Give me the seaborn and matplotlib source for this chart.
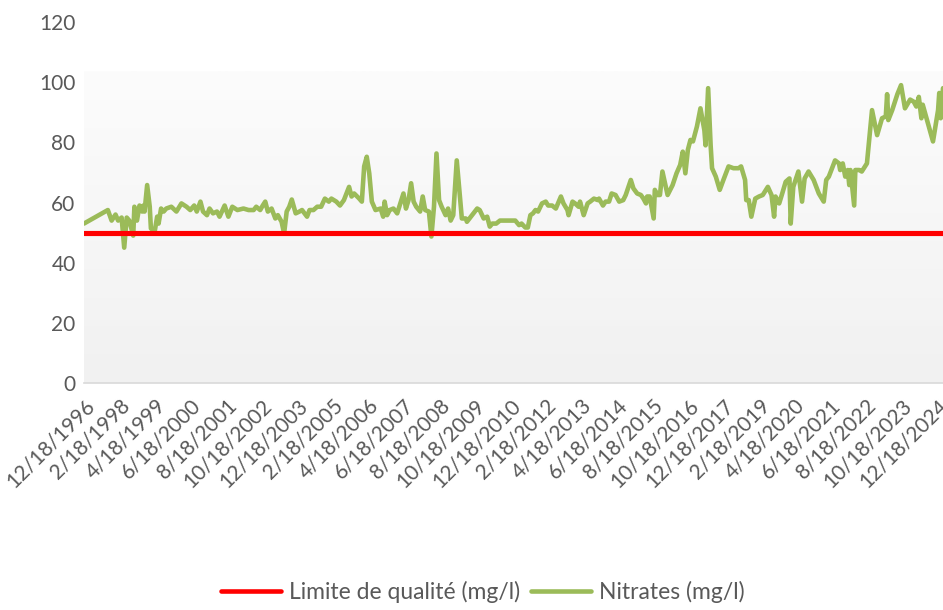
import numpy as np
import pandas as pd
import matplotlib
matplotlib.use("Agg")
import matplotlib.pyplot as plt
import matplotlib.dates as mdates
import seaborn as sns

# Dates des prélèvements et teneurs en nitrates (mg/l)
dates = [
    "1996-12-18", "1997-10-01", "1997-11-15", "1998-01-01", "1998-02-01", "1998-03-15",
    "1998-04-15", "1998-05-15", "1998-06-15", "1998-08-01", "1998-08-15", "1998-09-15",
    "1998-10-15", "1998-11-15", "1998-12-01", "1998-12-15", "1999-01-15", "1999-02-15",
    "1999-03-01", "1999-04-15", "1999-05-15", "1999-06-01", "1999-07-01", "1999-08-01",
    "1999-09-01", "1999-11-01", "2000-01-01", "2000-03-01", "2000-05-01", "2000-06-15",
    "2000-08-01", "2000-09-01", "2000-10-15", "2000-11-15", "2001-01-01", "2001-02-01",
    "2001-03-15", "2001-05-01", "2001-06-01", "2001-07-15", "2001-08-01", "2001-09-15",
    "2001-11-01", "2002-01-01", "2002-03-15", "2002-05-15", "2002-07-15", "2002-08-15",
    "2002-10-01", "2002-11-01", "2002-12-01", "2003-01-01", "2003-02-15", "2003-04-01",
    "2003-05-01", "2003-06-15", "2003-07-15", "2003-08-15", "2003-09-15", "2003-10-15",
    "2003-12-01", "2004-01-15", "2004-02-15", "2004-04-15", "2004-05-15", "2004-07-01",
    "2004-08-15", "2004-10-01", "2004-11-15", "2005-01-01", "2005-02-01", "2005-04-01",
    "2005-05-15", "2005-07-01", "2005-09-01", "2005-10-01", "2005-11-01", "2006-01-01",
    "2006-02-01", "2006-03-01", "2006-04-01", "2006-05-01", "2006-06-01", "2006-07-15",
    "2006-09-15", "2006-10-15", "2006-11-01", "2006-12-01", "2007-01-01", "2007-02-15",
    "2007-04-01", "2007-05-01", "2007-06-15", "2007-07-15", "2007-08-15", "2007-09-15",
    "2007-10-15", "2007-11-15", "2008-01-01", "2008-02-01", "2008-03-01", "2008-04-15",
    "2008-05-15", "2008-06-15", "2008-07-15", "2008-08-15", "2008-09-15", "2008-11-01",
    "2008-12-01", "2009-01-01", "2009-02-01", "2009-03-15", "2009-04-15", "2009-05-15",
    "2009-07-01", "2009-07-15", "2009-09-15", "2009-11-15", "2009-12-15", "2010-02-01",
    "2010-03-15", "2010-04-15", "2010-05-15", "2010-07-01", "2010-08-15", "2010-12-15",
    "2011-02-15", "2011-04-01", "2011-05-01", "2011-06-15", "2011-07-15", "2011-08-15",
    "2011-09-15", "2011-10-15", "2011-11-15", "2012-01-01", "2012-02-15", "2012-03-15",
    "2012-05-01", "2012-06-15", "2012-08-15", "2012-09-15", "2012-11-01", "2012-11-15",
    "2013-01-01", "2013-02-01", "2013-03-15", "2013-04-01", "2013-05-15", "2013-07-01",
    "2013-08-01", "2013-09-15", "2013-11-01", "2013-11-15", "2014-01-01", "2014-02-01",
    "2014-03-15", "2014-04-15", "2014-06-01", "2014-07-15", "2014-09-01", "2014-10-01",
    "2014-12-01", "2015-01-01", "2015-02-15", "2015-04-01", "2015-05-01", "2015-06-01",
    "2015-06-15", "2015-07-15", "2015-09-01", "2015-09-15", "2015-10-15", "2015-11-15",
    "2015-12-15", "2016-01-15", "2016-02-15", "2016-04-15", "2016-06-01", "2016-07-15",
    "2016-08-15", "2016-09-15", "2016-10-15", "2016-11-15", "2016-12-15", "2017-02-01",
    "2017-03-15", "2017-05-01", "2017-05-15", "2017-06-15", "2017-07-15", "2017-08-01",
    "2017-09-15", "2017-11-01", "2017-12-15", "2018-02-15", "2018-04-15", "2018-06-15",
    "2018-07-15", "2018-09-01", "2018-09-15", "2018-10-15", "2018-11-15", "2019-01-01",
    "2019-02-15", "2019-04-01", "2019-06-01", "2019-07-15", "2019-08-15", "2019-09-01",
    "2019-10-15", "2019-11-15", "2020-01-01", "2020-02-15", "2020-03-01", "2020-04-01",
    "2020-06-01", "2020-07-15", "2020-08-15", "2020-10-01", "2020-12-01", "2021-02-01",
    "2021-04-01", "2021-05-01", "2021-06-01", "2021-08-15", "2021-10-01", "2021-10-15",
    "2021-11-15", "2021-12-15", "2022-01-15", "2022-02-01", "2022-02-15", "2022-04-01",
    "2022-04-15", "2022-06-01", "2022-07-01", "2022-09-01", "2022-11-01", "2023-01-01",
    "2023-03-01", "2023-04-15", "2023-05-01", "2023-05-15", "2023-07-01", "2023-09-01",
    "2023-10-15", "2023-12-01", "2024-02-01", "2024-03-15", "2024-04-15", "2024-05-15",
    "2024-06-15", "2024-07-01", "2024-09-01", "2024-11-01", "2025-01-01", "2025-01-15",
    "2025-02-01", "2025-03-01",
]

nitrates = [
    53, 57.5, 54, 56, 54, 55,
    45, 55, 54, 49, 58.6, 54,
    59, 57, 59, 57, 65.8, 58.6,
    51.4, 50.3, 55.3, 53, 58, 57,
    58, 58.6, 57, 59.7, 58.6, 57.5,
    59, 57, 60.3, 57, 55.8, 58,
    56.4, 57, 55.3, 58, 59, 55.3,
    58.6, 57.5, 58, 57.5, 57.5, 58.6,
    57.5, 59, 60.3, 57, 58, 54.7,
    55.8, 53.6, 49.7, 57, 58.6, 61,
    56.4, 57, 57.5, 55.3, 57.5, 57.5,
    58.6, 58.6, 61.3, 60.3, 61.3, 60.3,
    59, 60.8, 65.2, 62, 63, 61.3,
    60.3, 72, 75.2, 69.7, 60.3, 57.5,
    58, 55.3, 60.3, 55.8, 57.5, 58,
    56.4, 59, 63, 58, 60.8, 66.4,
    60.3, 58.6, 57, 62, 57.5, 57,
    48.7, 58.6, 76.3, 60.8, 58.6, 55.8,
    58, 54, 55.8, 74, 64, 54.7,
    54.7, 53.6, 55.8, 58, 57.5, 54.7,
    55.3, 52, 53, 53, 54, 54,
    54, 52.5, 53, 51.7, 51.7, 55.8,
    56.4, 57.5, 57, 59.7, 60.3, 59,
    59, 58, 62, 59.7, 57.5, 55.8,
    60.3, 59.7, 58.6, 60.3, 55.8, 59.7,
    60.3, 61.3, 60.8, 61.3, 59, 60.3,
    60.3, 63, 62.5, 60.3, 60.8, 62.5,
    67.5, 64.7, 63, 62.5, 61.3, 59.7,
    62, 62, 54.7, 64.2, 62.5, 62.5,
    70.3, 66.4, 62.5, 65.8, 69.7, 72.5,
    76.9, 69.7, 77.5, 80.8, 80.3, 85.3,
    91.3, 84, 79, 98, 79, 71.4,
    68.6, 64.2, 67.5, 72, 71.4, 71.4,
    72, 67.5, 60.8, 60.8, 55.3, 61.3,
    62, 62.5, 65.2, 62.5, 55.3, 62,
    59.7, 62.5, 66.9, 68, 53, 65.2,
    70.3, 60.3, 68, 70.3, 67.5, 63,
    60.3, 67.5, 68.6, 74, 73, 70.8,
    73, 68.6, 70.8, 65.8, 70.8, 59,
    70.8, 70.8, 70.3, 73, 90.7, 82.4,
    88, 88.6, 96, 87.4, 90.7, 96,
    99, 91.3, 94.2, 93.5, 91.9, 95.1,
    88, 92.5, 86.4, 80.3, 90.7, 96.4,
    88, 98,
]

limite = 50  # limite de qualité (mg/l)

series_names = ["Limite de qualité (mg/l)", "Nitrates (mg/l)"]
colors = ["#ff0000", "#9bbb59"]

# graduations de l'axe des dates : tous les 14 mois
tick_dates = pd.date_range("1996-12-18", periods=25, freq=pd.DateOffset(months=14))
tick_labels = [f"{d.month}/{d.day}/{d.year}" for d in tick_dates]

df = pd.DataFrame({"date": pd.to_datetime(dates), "Nitrates (mg/l)": nitrates})
df["Limite de qualité (mg/l)"] = limite
long_df = df.melt(id_vars="date", var_name="serie", value_name="valeur")

sns.set_style("white")
plt.rcParams["font.family"] = ["Lato", "DejaVu Sans"]

fig = plt.figure(figsize=(9.43, 6.10), dpi=100)
ax = fig.add_axes([0.089, 0.372, 0.911, 0.592])

# fond en dégradé de la zone de tracé
x0 = mdates.date2num(df["date"].min())
x1 = mdates.date2num(df["date"].max())
grad = np.linspace(0, 1, 256).reshape(-1, 1)
cmap = matplotlib.colors.LinearSegmentedColormap.from_list("fond", ["#f1f1f1", "#fcfcfc"])
ax.imshow(grad, extent=[x0, x1, 0, 103.5], origin="lower", aspect="auto",
          cmap=cmap, zorder=0)

sns.lineplot(data=long_df, x="date", y="valeur", hue="serie", hue_order=series_names,
             palette=colors, linewidth=3.3, ax=ax, legend=True, zorder=2)
ax.lines[0].set_linewidth(3.7)
ax.lines[0].set_zorder(3)

ax.set_xlim(x0, x1)
ax.set_ylim(0, 120)
ax.set_yticks(range(0, 121, 20))
ax.set_xticks(tick_dates)
ax.set_xticklabels(tick_labels, rotation=45, ha="right", rotation_mode="anchor")
ax.tick_params(axis="both", labelsize=15, labelcolor="#595959", length=0)
ax.tick_params(axis="x", pad=9)
ax.tick_params(axis="y", pad=6)
ax.set_xlabel("")
ax.set_ylabel("")

for side in ["top", "right", "left"]:
    ax.spines[side].set_visible(False)
ax.spines["bottom"].set_color("#d9d9d9")
ax.spines["bottom"].set_linewidth(1.2)

handles, labels = ax.get_legend_handles_labels()
ax.legend_.remove()
fig.legend(handles, labels, loc="lower center", bbox_to_anchor=(0.512, -0.022), ncol=2,
           frameon=False, fontsize=16.5, labelcolor="#595959", handlelength=2.6,
           columnspacing=0.5, handletextpad=0.35)

fig.savefig("out.png", dpi=100)
